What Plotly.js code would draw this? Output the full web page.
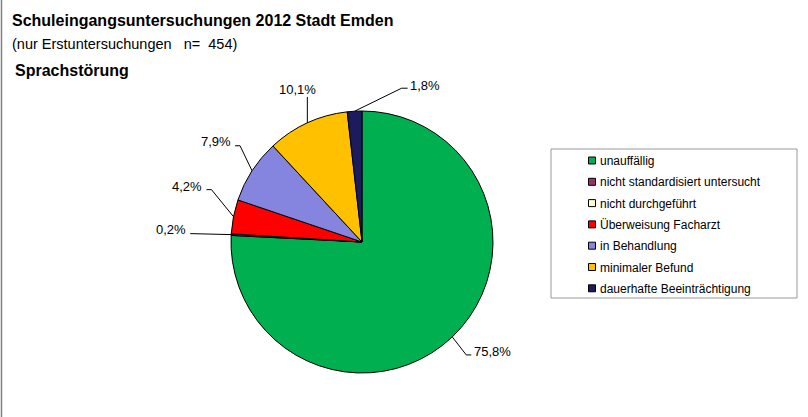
<!DOCTYPE html>
<html>
<head>
<meta charset="utf-8">
<script src="https://cdn.plot.ly/plotly-3.0.1.min.js"></script>
<style>html,body{margin:0;padding:0;background:#fff}#chart{width:808px;height:417px}</style>
</head>
<body>
<div id="chart"></div>
<script>
// ---- data ----
const categories = ['unauffällig', 'nicht standardisiert untersucht', 'nicht durchgeführt',
  'Überweisung Facharzt', 'in Behandlung', 'minimaler Befund', 'dauerhafte Beeinträchtigung'];
const values = [75.8, 0.2, 0.0, 4.2, 7.9, 10.1, 1.8];
const colors = ['#00b050', '#993366', '#ffffcc', '#ff0000', '#8585e0', '#ffc000', '#1b1b5e'];
const titleText = 'Schuleingangsuntersuchungen 2012 Stadt Emden';
const subtitleText = '(nur Erstuntersuchungen\u00a0\u00a0\u00a0n=\u00a0\u00a0454)';
const sectionText = 'Sprachstörung';

// ---- layout constants (pixels) ----
const W = 808, H = 417;
const M = {l: 231, r: 315, t: 111, b: 44};
const PW = W - M.l - M.r, PH = H - M.t - M.b;
const CX = M.l + PW / 2, CY = M.t + PH / 2, R = Math.min(PW, PH) / 2;
const px2x = p => (p - M.l) / PW;
const py2y = p => (H - M.b - p) / PH;
const FONT = 'Liberation Sans, Arial, sans-serif';

// label placement relative to slice edge (pixels): elbow offset, horizontal tail, text anchor & offset
const labelPlacement = [
  {dx: 14, dy: 18, tail: 5, anchor: 'left', ox: 1, oy: -3},
  {dx: -41, dy: -1, tail: 0, anchor: 'right', ox: -2, oy: -4},
  null,
  {dx: -22, dy: -27, tail: -5, anchor: 'right', ox: -2, oy: -3},
  {dx: -12, dy: -25, tail: -5, anchor: 'right', ox: -2, oy: -4},
  {dx: 0, dy: -26, tail: 0, anchor: 'center', ox: -10, oy: -7},
  {dx: 47, dy: -23, tail: 6, anchor: 'left', ox: 0, oy: -3}
];

const fmt = v => v.toFixed(1).replace('.', ',') + '%';
const total = values.reduce((a, b) => a + b, 0);

const shapes = [];
const annotations = [];
let cum = 0;
values.forEach((v, i) => {
  const mid = (cum + v / 2) / total;
  cum += v;
  const lp = labelPlacement[i];
  if (!lp || v <= 0) return;
  const th = 2 * Math.PI * mid;
  const ex = CX + R * Math.sin(th), ey = CY - R * Math.cos(th);
  const bx = ex + lp.dx, by = ey + lp.dy;
  const tx = bx + lp.tail;
  shapes.push({type: 'path', xref: 'paper', yref: 'paper',
    path: `M${px2x(ex)},${py2y(ey)} L${px2x(bx)},${py2y(by)} L${px2x(tx)},${py2y(by)}`,
    line: {color: '#000', width: 1}});
  annotations.push({xref: 'paper', yref: 'paper', x: px2x(tx + lp.ox), y: py2y(by + lp.oy),
    xanchor: lp.anchor, yanchor: 'middle', showarrow: false, text: fmt(v),
    font: {family: FONT, size: 13, color: '#000'}});
});

// header texts
const hdr = (text, x, y, bold, size) => ({xref: 'paper', yref: 'paper', x: px2x(x), y: py2y(y),
  xanchor: 'left', yanchor: 'middle', showarrow: false, text: bold ? '<b>' + text + '</b>' : text,
  font: {family: FONT, size: size, color: '#000'}});
annotations.push(hdr(titleText, 10, 20.5, true, 16));
annotations.push(hdr(subtitleText, 10, 44, false, 14.5));
annotations.push(hdr(sectionText, 13, 70.5, true, 16));

// legend frame and left border
shapes.push({type: 'rect', xref: 'paper', yref: 'paper', x0: px2x(551), x1: px2x(797), y0: py2y(149), y1: py2y(298),
  line: {color: '#999999', width: 1}, fillcolor: 'rgba(0,0,0,0)'});
shapes.push({type: 'line', xref: 'paper', yref: 'paper', x0: px2x(1.5), x1: px2x(1.5), y0: py2y(0), y1: py2y(417),
  line: {color: '#808080', width: 1.5}});

const traces = [{
  type: 'pie', values: values, labels: categories, sort: false, direction: 'clockwise', rotation: 0,
  marker: {colors: colors, line: {color: '#000', width: 1}}, textinfo: 'none', showlegend: false,
  domain: {x: [0, 1], y: [0, 1]}, hoverinfo: 'label+percent'
}];
categories.forEach((c, i) => traces.push({
  type: 'scatter', mode: 'markers', x: [null], y: [null], name: c, legendgroup: 'g' + i,
  marker: {symbol: 'square', size: 7, color: colors[i], line: {color: '#000', width: 1}},
  hoverinfo: 'skip', showlegend: true
}));

const layout = {
  width: W, height: H, margin: M, paper_bgcolor: '#fff', plot_bgcolor: 'rgba(0,0,0,0)',
  font: {family: FONT, size: 12, color: '#000'},
  xaxis: {visible: false}, yaxis: {visible: false},
  showlegend: true,
  legend: {xref: 'container', yref: 'container', x: 560 / W, y: 1 - 146 / H, xanchor: 'left', yanchor: 'top',
    font: {family: FONT, size: 12, color: '#000'},
    bgcolor: 'rgba(0,0,0,0)', borderwidth: 0, tracegroupgap: 2.3, itemwidth: 30},
  shapes: shapes, annotations: annotations
};
Plotly.newPlot('chart', traces, layout, {displayModeBar: false, staticPlot: true}).then(gd => {
  // place legend swatches right next to their text, as in the reference
  gd.querySelectorAll('.legend .legendpoints path.scatterpts').forEach(p => p.setAttribute('transform', 'translate(32,0)'));
});
</script>
</body>
</html>
